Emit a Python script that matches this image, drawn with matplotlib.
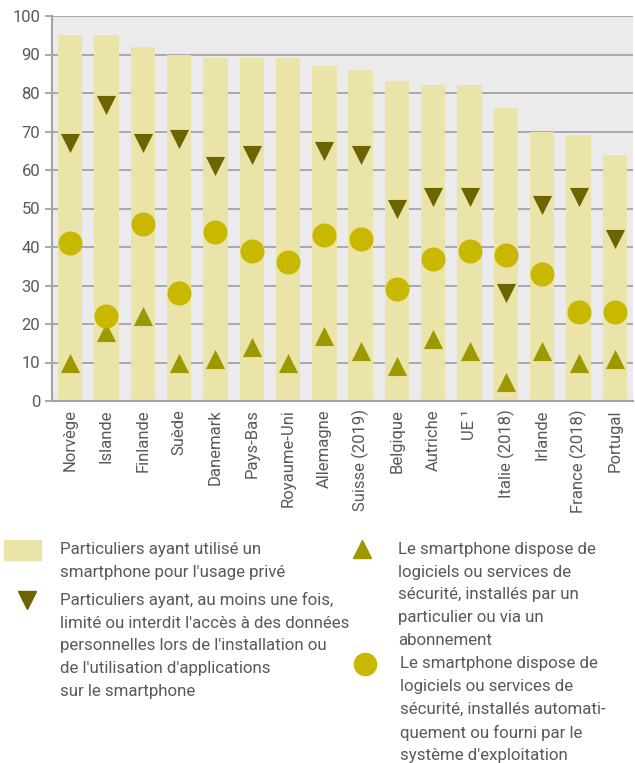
import matplotlib
matplotlib.use("Agg")
import matplotlib.pyplot as plt
from matplotlib.lines import Line2D
from matplotlib.patches import Rectangle

plt.rcParams['font.family'] = ['Roboto', 'DejaVu Sans']

countries = ["Norvège", "Islande", "Finlande", "Suède", "Danemark", "Pays-Bas",
             "Royaume-Uni", "Allemagne", "Suisse (2019)", "Belgique", "Autriche",
             "UE ¹", "Italie (2018)", "Irlande", "France (2018)", "Portugal"]
smartphone_use = [95, 95, 92, 90, 89, 89, 89, 87, 86, 83, 82, 82, 76, 70, 69, 64]
limited_access = [67, 77, 67, 68, 61, 64, None, 65, 64, 50, 53, 53, 28, 51, 53, 42]
security_auto = [41, 22, 46, 28, 44, 39, 36, 43, 42, 29, 37, 39, 38, 33, 23, 23]
security_user = [10, 18, 22, 10, 11, 14, 10, 17, 13, 9, 16, 13, 5, 13, 10, 11]
yticks = list(range(0, 101, 10))

c_bar = "#eae4a8"
c_down = "#6b6400"
c_up = "#9d9700"
c_circ = "#c9b800"
c_text = "#595959"
c_grid = "#a3a3a6"

W, H = 635, 763
fig = plt.figure(figsize=(W / 100, H / 100), dpi=100)
ax = fig.add_axes([52 / W, 1 - 401 / H, (633 - 52) / W, (401 - 16) / H])
ax.set_facecolor("#ebebed")

x = list(range(len(countries)))
ax.bar(x, smartphone_use, width=0.67, color=c_bar, zorder=2)
xd = [i for i, v in zip(x, limited_access) if v is not None]
yd = [v for v in limited_access if v is not None]
ax.scatter(xd, yd, marker="v", s=190, color=c_down, zorder=3, linewidths=0)
ax.scatter(x, security_user, marker="^", s=190, color=c_up, zorder=3, linewidths=0)
ax.scatter(x, security_auto, marker="o", s=300, color=c_circ, zorder=3, linewidths=0)

ax.set_xlim(-0.5, len(countries) - 0.5)
ax.set_ylim(0, 100)
ax.set_yticks(yticks)
ax.set_yticklabels([str(t) for t in yticks])
ax.set_xticks(x)
ax.set_xticklabels(countries, rotation=90)
ax.yaxis.grid(True, color=c_grid, linewidth=1.3, zorder=1)
ax.set_axisbelow(True)
for s in ["top", "right"]:
    ax.spines[s].set_visible(False)
for s in ["left", "bottom"]:
    ax.spines[s].set_color(c_grid)
    ax.spines[s].set_linewidth(1.5)
    ax.spines[s].set_zorder(4)
ax.tick_params(axis="y", colors=c_grid, labelcolor=c_text, labelsize=12, length=5, width=1.3)
ax.tick_params(axis="x", length=0, labelcolor=c_text, labelsize=12, pad=6)

# Legend
fs = 12.2
def ftxt(px, py, s):
    fig.text(px / W, 1 - py / H, s, fontsize=fs, color=c_text, va="top", ha="left",
             linespacing=1.64)

fig.patches.append(Rectangle((4 / W, 1 - 560 / H), 37 / W, 20 / H, transform=fig.transFigure,
                             color=c_bar, figure=fig))
ftxt(60, 542, "Particuliers ayant utilisé un\nsmartphone pour l'usage privé")
fig.lines.append(Line2D([27 / W], [1 - 600 / H], marker="v", markersize=13, color=c_down,
                        linestyle="none", transform=fig.transFigure, figure=fig))
ftxt(60, 592, "Particuliers ayant, au moins une fois,\nlimité ou interdit l'accès à des données\n"
     "personnelles lors de l'installation ou\nde l'utilisation d'applications\nsur le smartphone")
fig.lines.append(Line2D([362 / W], [1 - 549 / H], marker="^", markersize=13, color=c_up,
                        linestyle="none", transform=fig.transFigure, figure=fig))
ftxt(398, 542, "Le smartphone dispose de\nlogiciels ou services de\nsécurité, installés par un\n"
     "particulier ou via un\nabonnement")
fig.lines.append(Line2D([365 / W], [1 - 664 / H], marker="o", markersize=16, color=c_circ,
                        linestyle="none", transform=fig.transFigure, figure=fig))
ftxt(400, 656, "Le smartphone dispose de\nlogiciels ou services de\nsécurité, installés automati-\n"
     "quement ou fourni par le\nsystème d'exploitation")

fig.savefig("out.png", dpi=100)
